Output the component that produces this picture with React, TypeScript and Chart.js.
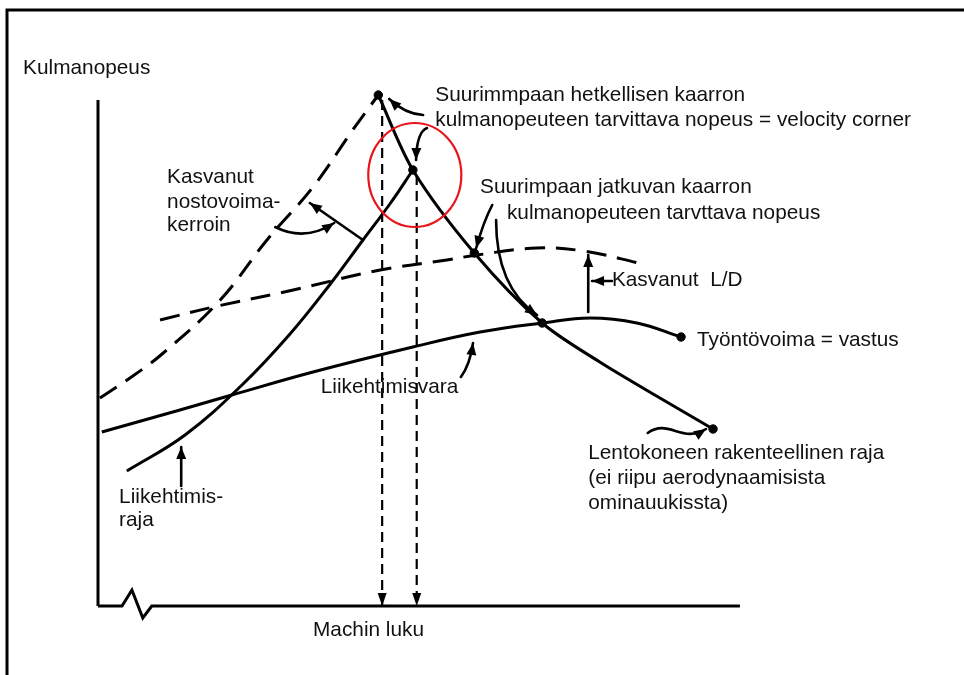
import React, { useEffect, useRef } from "react";
import { Chart, registerables } from "chart.js";
Chart.register(...registerables);

// x: Mach number (relative units), y: turn rate (relative units)
const liftHighX = [0.03, 0.5, 1.02, 1.91, 2.64, 3.36, 3.98, 4.38];
const liftHighY = [4.16, 4.56, 5.06, 6.12, 7.32, 8.38, 9.52, 10.22];
const liftLimitX = [0.45, 1.36, 2.25, 3.0, 3.63, 4.14, 4.56, 4.92];
const liftLimitY = [2.7, 3.42, 4.42, 5.44, 6.44, 7.32, 8.04, 8.72];
const structX = [4.38, 4.92, 5.88, 6.94, 7.84, 8.78, 9.61];
const structY = [10.22, 8.72, 7.06, 5.66, 4.88, 4.16, 3.54];
const ldHighX = [0.97, 1.8, 3.05, 4.41, 5.45, 5.92, 6.86, 7.58, 8.52];
const ldHighY = [5.72, 5.98, 6.32, 6.72, 6.92, 7.02, 7.16, 7.1, 6.84];
const thrustX = [0.06, 1.28, 2.09, 3.36, 4.92, 5.97, 6.94, 7.69, 8.42, 9.11];
const thrustY = [3.48, 3.92, 4.22, 4.68, 5.18, 5.48, 5.66, 5.76, 5.66, 5.38];
const dotX = [4.38, 4.92, 5.88, 6.94, 9.11, 9.61];
const dotY = [10.22, 8.72, 7.06, 5.66, 5.38, 3.54];
const cornerX = [4.44, 4.98];
const cornerTopY = [10.12, 8.62];
const yAxisTop = 10.12;
const xAxisX = [0, 0.375, 0.53, 0.7, 0.84, 10.03];
const xAxisY = [0, 0, 0.32, -0.24, 0, 0];

// highlight ellipse: center x, center y, radius x, radius y (data units)
const ringX = 4.95, ringY = 8.62, ringRX = 0.727, ringRY = 1.04;

// arrows: [x0, y0, c1x, c1y, c2x, c2y, x1, y1] (cubic), straight when controls = ends
const q = (x0: number, y0: number, qx: number, qy: number, x1: number, y1: number) => [
  x0, y0, x0 + (2 / 3) * (qx - x0), y0 + (2 / 3) * (qy - y0),
  x1 + (2 / 3) * (qx - x1), y1 + (2 / 3) * (qy - y1), x1, y1,
];
const s = (x0: number, y0: number, x1: number, y1: number) => [x0, y0, x0, y0, x1, y1, x1, y1];
const arrows = [
  q(5.08, 9.82, 4.8, 9.84, 4.55, 10.14),
  q(5.14, 9.56, 4.98, 9.48, 4.97, 8.92),
  s(4.14, 7.32, 3.31, 8.06),
  q(2.77, 7.58, 3.23, 7.28, 3.69, 7.66),
  q(6.16, 8.02, 6.02, 7.68, 5.91, 7.16),
  q(6.22, 7.72, 6.22, 6.38, 6.86, 5.82),
  s(7.66, 5.88, 7.66, 7.02),
  s(8.03, 6.5, 7.72, 6.5),
  q(5.67, 4.58, 5.81, 4.82, 5.86, 5.26),
  s(1.3, 2.4, 1.3, 3.18),
  [8.59, 3.46, 8.91, 3.76, 9.13, 3.24, 9.5, 3.54],
];

const labelText = [
  "Kulmanopeus",
  "Suurimmpaan hetkellisen kaarron",
  "kulmanopeuteen tarvittava nopeus = velocity corner",
  "Kasvanut",
  "nostovoima-",
  "kerroin",
  "Suurimpaan jatkuvan kaarron",
  "kulmanopeuteen tarvttava nopeus",
  "Kasvanut  L/D",
  "Työntövoima = vastus",
  "Liikehtimisvara",
  "Liikehtimis-",
  "raja",
  "Lentokoneen rakenteellinen raja",
  "(ei riipu aerodynaamisista",
  "ominauukissta)",
  "Machin luku",
];
const labelX = [-1.17, 5.27, 5.27, 1.08, 1.08, 1.08, 5.97, 6.39, 8.03, 9.36, 3.48, 0.33, 0.33, 7.66, 7.66, 7.66, 3.36];
const labelY = [10.76, 10.22, 9.72, 8.58, 8.08, 7.62, 8.38, 7.86, 6.52, 5.32, 4.38, 2.18, 1.72, 3.06, 2.56, 2.06, -0.48];

const pts = (xs: number[], ys: number[]) => xs.map((x, i) => ({ x, y: ys[i] }));

const drawHead = (ctx: CanvasRenderingContext2D, fx: number, fy: number, tx: number, ty: number, len = 12, w = 4.5) => {
  const a = Math.atan2(ty - fy, tx - fx);
  ctx.beginPath();
  ctx.moveTo(tx, ty);
  ctx.lineTo(tx - len * Math.cos(a) + w * Math.sin(a), ty - len * Math.sin(a) - w * Math.cos(a));
  ctx.lineTo(tx - len * Math.cos(a) - w * Math.sin(a), ty - len * Math.sin(a) + w * Math.cos(a));
  ctx.closePath();
  ctx.fill();
};

const overlay = {
  id: "overlay",
  afterDatasetsDraw(chart: any) {
    const ctx: CanvasRenderingContext2D = chart.ctx;
    const xs = chart.scales.x, ys = chart.scales.y;
    const X = (v: number) => xs.getPixelForValue(v);
    const Y = (v: number) => ys.getPixelForValue(v);
    ctx.save();
    // frame
    ctx.strokeStyle = "#000";
    ctx.lineWidth = 3;
    ctx.strokeRect(7, 10, chart.width + 20, chart.height + 20);
    // arrowheads on flagged datasets
    chart.data.datasets.forEach((ds: any, i: number) => {
      if (!ds.arrowHead) return;
      const d = chart.getDatasetMeta(i).data;
      const a = d[d.length - 2], b = d[d.length - 1];
      ctx.fillStyle = "#000";
      drawHead(ctx, a.x, a.y, b.x, b.y, 13, 4.5);
    });
    // ring
    ctx.strokeStyle = "#e8161c";
    ctx.lineWidth = 2.2;
    ctx.beginPath();
    ctx.ellipse(X(ringX), Y(ringY), X(ringX + ringRX) - X(ringX), Y(ringY) - Y(ringY + ringRY), 0, 0, Math.PI * 2);
    ctx.stroke();
    // arrows
    ctx.strokeStyle = "#000";
    ctx.fillStyle = "#000";
    ctx.lineWidth = 2.6;
    ctx.lineCap = "round";
    arrows.forEach((a) => {
      const p = a.map((v, k) => (k % 2 === 0 ? X(v) : Y(v)));
      ctx.beginPath();
      ctx.moveTo(p[0], p[1]);
      ctx.bezierCurveTo(p[2], p[3], p[4], p[5], p[6], p[7]);
      ctx.stroke();
      const straight = p[4] === p[6] && p[5] === p[7];
      drawHead(ctx, straight ? p[0] : p[4], straight ? p[1] : p[5], p[6], p[7], 12, 5);
    });
    // labels
    ctx.fillStyle = "#111";
    ctx.font = '20.8px "Liberation Sans", Arial, sans-serif';
    ctx.textAlign = "left";
    ctx.textBaseline = "middle";
    labelText.forEach((t, i) => ctx.fillText(t, X(labelX[i]), Y(labelY[i])));
    ctx.restore();
  },
};

export default function App() {
  const ref = useRef<HTMLCanvasElement>(null);
  useEffect(() => {
    const solid = { borderColor: "#000", borderWidth: 3, pointRadius: 0, showLine: true, clip: false, tension: 0.4 };
    const chart = new Chart(ref.current!, {
      type: "scatter",
      data: {
        datasets: [
          { ...solid, data: pts([0, 0], [0, yAxisTop]), tension: 0 },
          { ...solid, data: pts(xAxisX, xAxisY), tension: 0 },
          { ...solid, data: pts(liftHighX, liftHighY), borderDash: [20, 11] },
          { ...solid, data: pts(ldHighX, ldHighY), borderDash: [20, 11] },
          { ...solid, data: pts(liftLimitX, liftLimitY) },
          { ...solid, data: pts(structX, structY), tension: 0.3 },
          { ...solid, data: pts(thrustX, thrustY) },
          { ...solid, borderWidth: 2.2, borderDash: [10, 6], data: pts([cornerX[0], cornerX[0]], [cornerTopY[0], 0]), arrowHead: true, tension: 0 } as any,
          { ...solid, borderWidth: 2.2, borderDash: [10, 6], data: pts([cornerX[1], cornerX[1]], [cornerTopY[1], 0]), arrowHead: true, tension: 0 } as any,
          { data: pts(dotX, dotY), showLine: false, pointRadius: 4.2, pointBackgroundColor: "#000", pointBorderColor: "#000", clip: false } as any,
        ],
      },
      options: {
        animation: false,
        responsive: false,
        events: [],
        layout: { padding: { left: 98, right: 226, top: 56, bottom: 69 } },
        plugins: { legend: { display: false }, tooltip: { enabled: false } },
        scales: {
          x: { type: "linear", min: 0, max: 10, display: false },
          y: { type: "linear", min: 0, max: 11, display: false },
        },
      },
      plugins: [overlay],
    });
    return () => chart.destroy();
  }, []);
  return (
    <div style={{ position: "fixed", left: 0, top: 0, width: 964, height: 675, background: "#fff" }}>
      <canvas ref={ref} width={964} height={675} style={{ display: "block" }} />
    </div>
  );
}
